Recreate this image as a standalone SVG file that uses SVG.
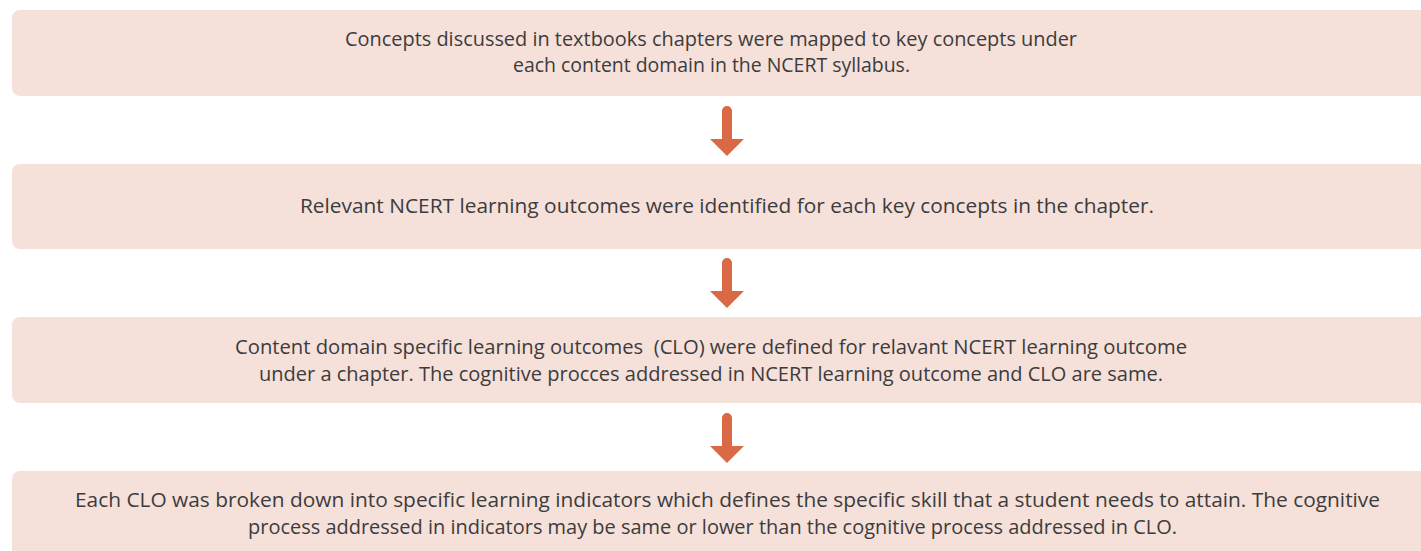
<svg xmlns="http://www.w3.org/2000/svg" width="1421" height="551" viewBox="0 0 1421 551">
  <style>
    .box { fill: #F5E0DA; }
    .txt { font-family: "Open Sans", "Noto Sans", sans-serif; font-size: 20px; fill: #3C3C3C; text-anchor: middle; }
    .arrow { fill: #D96A45; }
  </style>
  <defs>
    <!-- down arrow: rounded shaft and triangular head, origin at shaft top centre -->
    <path id="downArrow" class="arrow" d="M -5 5 A 5 5 0 0 1 5 5 L 5 33 L 17 33 L 0 50 L -17 33 L -5 33 Z"/>
  </defs>

  <g id="step1">
    <rect class="box" x="12" y="10" width="1430" height="86" rx="8"/>
    <text class="txt" x="711" y="46" textLength="732" lengthAdjust="spacingAndGlyphs">Concepts discussed in textbooks chapters were mapped to key concepts under</text>
    <text class="txt" x="711.5" y="72" textLength="397" lengthAdjust="spacingAndGlyphs">each content domain in the NCERT syllabus.</text>
  </g>

  <g id="step2">
    <rect class="box" x="12" y="164" width="1430" height="85" rx="8"/>
    <text class="txt" x="727" y="213" textLength="854" lengthAdjust="spacingAndGlyphs">Relevant NCERT learning outcomes were identified for each key concepts in the chapter.</text>
  </g>

  <g id="step3">
    <rect class="box" x="12" y="317" width="1430" height="86" rx="8"/>
    <text class="txt" x="711" y="354" textLength="952" lengthAdjust="spacingAndGlyphs" xml:space="preserve">Content domain specific learning outcomes  (CLO) were defined for relavant NCERT learning outcome</text>
    <text class="txt" x="711" y="381" textLength="904" lengthAdjust="spacingAndGlyphs">under a chapter. The cognitive procces addressed in NCERT learning outcome and CLO are same.</text>
  </g>

  <g id="step4">
    <rect class="box" x="12" y="471" width="1430" height="100" rx="8"/>
    <text class="txt" x="727.5" y="507" textLength="1305" lengthAdjust="spacingAndGlyphs">Each CLO was broken down into specific learning indicators which defines the specific skill that a student needs to attain. The cognitive</text>
    <text class="txt" x="712.5" y="533.5" textLength="929" lengthAdjust="spacingAndGlyphs">process addressed in indicators may be same or lower than the cognitive process addressed in CLO.</text>
  </g>

  <g id="connectors">
    <use href="#downArrow" x="727" y="106"/>
    <use href="#downArrow" x="727" y="258"/>
    <use href="#downArrow" x="727" y="413"/>
  </g>
</svg>
